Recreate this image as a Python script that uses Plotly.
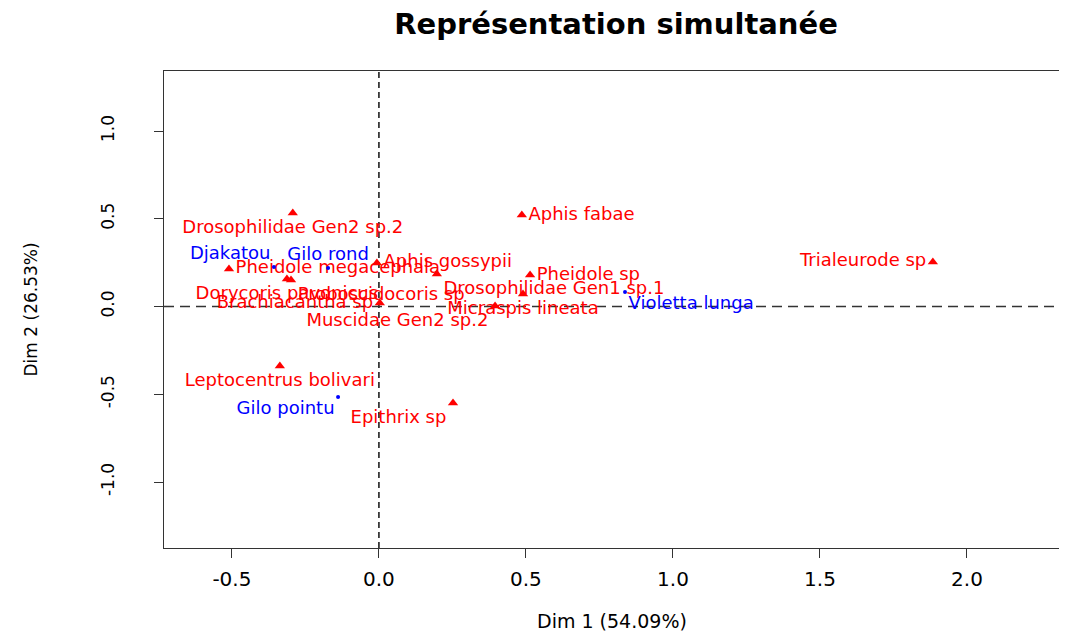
import plotly.graph_objects as go

# ---- data ----
col_names = ["Drosophilidae Gen2 sp.2", "Aphis fabae", "Aphis gossypii", "Pheidole megacephala",
             "Drosophilidae Gen1 sp.1", "Pheidole sp", "Trialeurode sp", "Dorycoris pavonicus",
             "Proboscidocoris sp", "Micraspis lineata", "Brachiacantha sp", "Muscidae Gen2 sp.2",
             "Leptocentrus bolivari", "Epithrix sp"]
col_dim1 = [-0.293, 0.486, -0.007, -0.510, 0.197, 0.514, 1.884, -0.313, -0.299, 0.490, 0.003, 0.395, -0.337, 0.252]
col_dim2 = [0.533, 0.521, 0.248, 0.214, 0.185, 0.179, 0.254, 0.157, 0.151, 0.071, 0.020, 0.003, -0.339, -0.550]

row_names = ["Djakatou", "Gilo rond", "Gilo pointu", "Violetta lunga"]
row_dim1 = [-0.357, -0.173, -0.139, 0.837]
row_dim2 = [0.225, 0.219, -0.516, 0.083]

x_ticks = [-0.5, 0.0, 0.5, 1.0, 1.5, 2.0]
x_tick_labels = ["-0.5", "0.0", "0.5", "1.0", "1.5", "2.0"]
y_ticks = [-1.0, -0.5, 0.0, 0.5, 1.0]
y_tick_labels = ["-1.0", "-0.5", "0.0", "0.5", "1.0"]

title_text = "Représentation simultanée"
x_title = "Dim 1 (54.09%)"
y_title = "Dim 2 (26.53%)"

# ---- label placement (style) ----
col_text_pos = ["bottom center", "middle right", "middle right", "middle right",
                "bottom right", "middle right", "middle left", "bottom center",
                "bottom right", "bottom center", "middle left", "bottom left",
                "bottom center", "bottom left"]
row_text_pos = ["top left", "top center", "bottom left", "bottom right"]

FONT = "DejaVu Sans"
RED = "#FF0000"
BLUE = "#0000FF"

# page body has an 8px margin: figure is sized to fit the window without scrollbars
W, H = 1051, 627
ML, MT, MB = 156, 63, 87
PLOT_W, PLOT_H = W - ML, H - MT - MB

fig = go.Figure()

fig.add_trace(go.Scatter(
    x=col_dim1, y=col_dim2, mode="markers+text", text=col_names,
    textposition=col_text_pos,
    marker=dict(symbol="triangle-up", size=9, color=RED),
    textfont=dict(family=FONT, size=18, color=RED),
    cliponaxis=False, showlegend=False, name="colonnes"))

fig.add_trace(go.Scatter(
    x=row_dim1, y=row_dim2, mode="markers+text", text=row_names,
    textposition=row_text_pos,
    marker=dict(symbol="circle", size=4, color=BLUE),
    textfont=dict(family=FONT, size=18, color=BLUE),
    cliponaxis=False, showlegend=False, name="lignes"))

# dashed reference lines
fig.add_shape(type="line", xref="x", yref="paper", x0=0, x1=0, y0=0, y1=1,
              line=dict(color="black", width=1.4, dash="6px,4px"), layer="below")
fig.add_shape(type="line", xref="paper", yref="y", x0=0, x1=1, y0=0, y1=0,
              line=dict(color="#333333", width=1.4, dash="10px,6px"), layer="below")

# axis titles
fig.add_annotation(text=x_title, xref="paper", yref="paper", x=0.5, y=-73 / PLOT_H,
                   xanchor="center", yanchor="middle", showarrow=False,
                   font=dict(family=FONT, size=19, color="black"))
fig.add_annotation(text=y_title, xref="paper", yref="paper", x=-134 / PLOT_W, y=0.5,
                   xanchor="center", yanchor="middle", showarrow=False, textangle=-90,
                   font=dict(family=FONT, size=17, color="black"))

fig.update_layout(
    width=W, height=H,
    margin=dict(l=ML, r=0, t=MT, b=MB, autoexpand=False),
    paper_bgcolor="white", plot_bgcolor="white",
    title=dict(text="<b>" + title_text + "</b>", x=608 / W, xanchor="center",
               y=1 - 16 / H, yanchor="middle", yref="container",
               font=dict(family=FONT, size=29, color="black")),
    xaxis=dict(range=[-0.731, 2.313], showgrid=False, zeroline=False, automargin=False,
               showline=True, mirror=True, linecolor="#333333", linewidth=1,
               ticks="outside", ticklen=9, tickcolor="#333333",
               tickvals=x_ticks, ticktext=x_tick_labels,
               tickfont=dict(family=FONT, size=20, color="black"),
               ticklabelstandoff=4),
    yaxis=dict(range=[-1.376, 1.342], showgrid=False, zeroline=False, automargin=False,
               showline=True, mirror=False, linecolor="#333333", linewidth=1,
               ticks="outside", ticklen=9, tickcolor="#333333",
               tickvals=y_ticks, ticktext=y_tick_labels, tickangle=-90,
               tickfont=dict(family=FONT, size=17, color="black"),
               ticklabelstandoff=33),
)

fig.write_html("out.html")
